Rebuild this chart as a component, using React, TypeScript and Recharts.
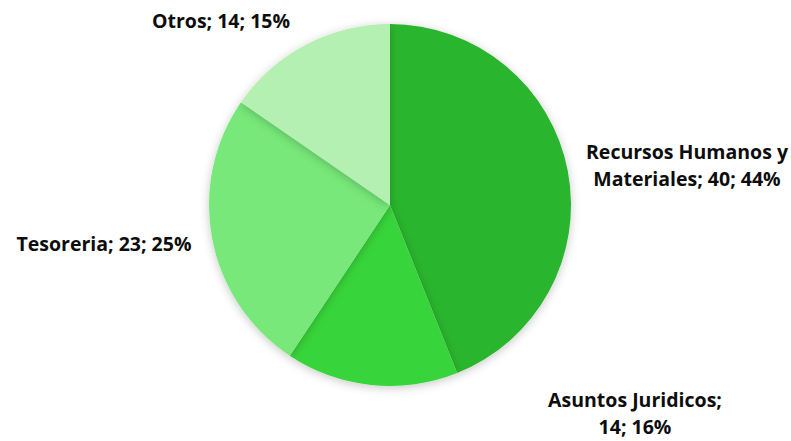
import { PieChart, Pie, Cell } from "recharts";

const areas = ["Recursos Humanos y Materiales", "Asuntos Juridicos", "Tesoreria", "Otros"];
const counts = [40, 14, 23, 14];
const percents = [44, 16, 25, 15];

const colors = ["#2cb52e", "#38d43a", "#77e879", "#b3f0b1"];

// label anchor (center x, first baseline y) and wrap width in chars, per slice
const labelLayout = [
  { x: 687, y: 159, wrap: 19 },
  { x: 635, y: 407, wrap: 18 },
  { x: 104, y: 251, wrap: 40 },
  { x: 221, y: 28, wrap: 40 },
];

const data = areas.map((name, i) => ({ name, value: counts[i], pct: percents[i] }));

const wrapText = (text: string, max: number) => {
  const words = text.split(" ");
  const lines: string[] = [];
  let cur = "";
  words.forEach((w) => {
    const next = cur ? `${cur} ${w}` : w;
    if (next.length > max && cur) {
      lines.push(cur);
      cur = w;
    } else {
      cur = next;
    }
  });
  if (cur) lines.push(cur);
  return lines;
};

const renderLabel = (props: any) => {
  const { index } = props;
  const d = data[index];
  const pos = labelLayout[index];
  const lines = wrapText(`${d.name}; ${d.value}; ${d.pct}%`, pos.wrap);
  return (
    <text
      key={`lbl-${index}`}
      x={pos.x}
      y={pos.y}
      textAnchor="middle"
      fill="#0d0d0d"
      fontSize={19.5}
      fontWeight={700}
      fontFamily="'Open Sans', sans-serif"
    >
      {lines.map((ln, i) => (
        <tspan key={i} x={pos.x} dy={i === 0 ? 0 : 27}>
          {ln}
        </tspan>
      ))}
    </text>
  );
};

export default function App() {
  return (
    <div style={{ position: "absolute", left: 0, top: 0, width: 791, height: 441, background: "#fff" }}>
      <PieChart width={791} height={441} margin={{ top: 0, right: 0, bottom: 0, left: 0 }}>
        <defs>
          <filter id="pieShadow" x="-20%" y="-20%" width="140%" height="140%">
            <feDropShadow dx="0" dy="2" stdDeviation="5" floodColor="#000" floodOpacity="0.22" />
          </filter>
        </defs>
        <Pie
          data={data}
          dataKey="value"
          nameKey="name"
          cx={390}
          cy={205}
          outerRadius={181}
          startAngle={90}
          endAngle={-270}
          stroke="none"
          labelLine={false}
          label={renderLabel}
          isAnimationActive={false}
        >
          {data.map((d, i) => (
            <Cell key={d.name} fill={colors[i]} style={{ filter: "url(#pieShadow)" }} />
          ))}
        </Pie>
      </PieChart>
    </div>
  );
}
